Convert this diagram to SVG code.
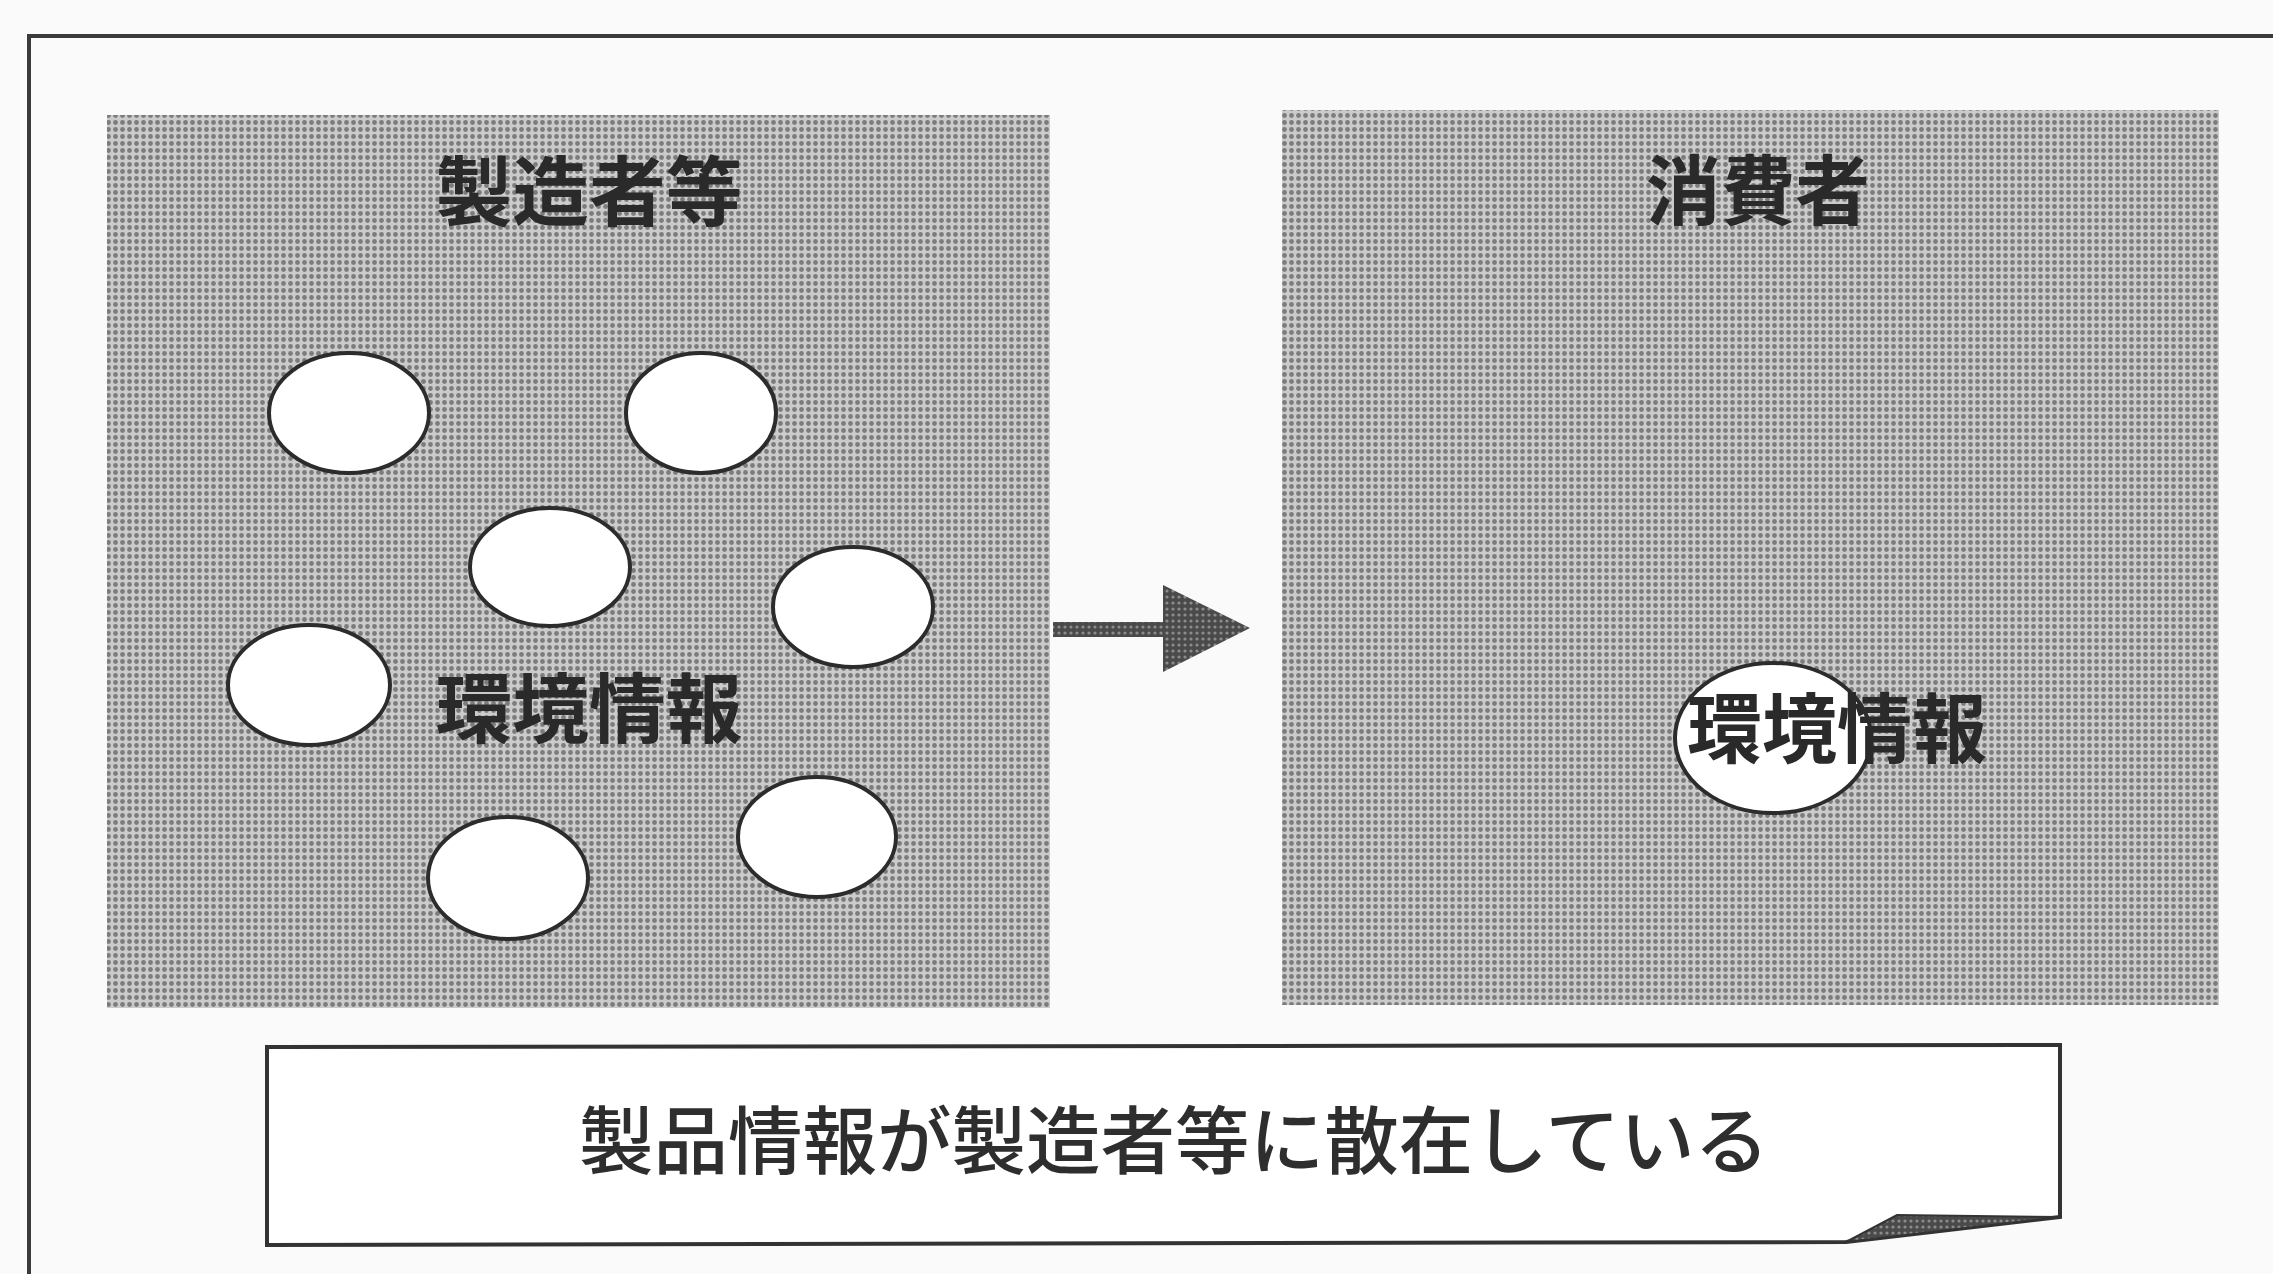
<svg xmlns="http://www.w3.org/2000/svg" width="2273" height="1274" viewBox="0 0 2273 1274">
  <defs>
    <pattern id="ht" width="7" height="7" patternUnits="userSpaceOnUse">
      <rect width="7" height="7" fill="#cbcbcb"/>
      <circle cx="3.5" cy="3.5" r="2.4" fill="#7c7c7c"/>
    </pattern>
    <pattern id="htd" width="6" height="6" patternUnits="userSpaceOnUse">
      <rect width="6" height="6" fill="#4a4a4a"/>
      <circle cx="3" cy="3" r="1.6" fill="#8c8c8c"/>
    </pattern>
    <style>
      .panel { fill: url(#ht); }
      .bubble { fill: #ffffff; stroke: #2c2c2c; stroke-width: 4; }
      .label { font-family: "Noto Sans CJK JP", "Noto Sans CJK SC", sans-serif; font-weight: bold; font-size: 76px; fill: #2a2a2a; }
      .caption { font-family: "Noto Sans CJK JP", "Noto Sans CJK SC", sans-serif; font-weight: 500; font-size: 74px; fill: #2e2e2e; }
      .frame { fill: none; stroke: #3a3a3a; stroke-width: 4; }
      .note { fill: #ffffff; stroke: #333333; stroke-width: 4; stroke-linejoin: miter; }
      .arrow { fill: url(#htd); }
    </style>
  </defs>

  <rect width="2273" height="1274" fill="#fafafa"/>
  <rect class="frame" x="29" y="36" width="2300" height="1300"/>

  <g id="producers">
    <rect class="panel" x="107" y="115" width="943" height="893"/>
    <text class="label" x="589" y="220" text-anchor="middle" textLength="307" lengthAdjust="spacingAndGlyphs">製造者等</text>
    <ellipse class="bubble" cx="349" cy="413" rx="80" ry="60"/>
    <ellipse class="bubble" cx="701" cy="413" rx="75" ry="60"/>
    <ellipse class="bubble" cx="550" cy="567" rx="80" ry="59"/>
    <ellipse class="bubble" cx="853" cy="607" rx="80" ry="60"/>
    <ellipse class="bubble" cx="309" cy="685" rx="81" ry="60"/>
    <ellipse class="bubble" cx="508" cy="878" rx="80" ry="61"/>
    <ellipse class="bubble" cx="817" cy="837" rx="79" ry="60"/>
    <text class="label" x="589" y="737" text-anchor="middle" textLength="307" lengthAdjust="spacingAndGlyphs">環境情報</text>
  </g>

  <g id="consumers">
    <rect class="panel" x="1282" y="110" width="937" height="895"/>
    <text class="label" x="1758" y="219" text-anchor="middle" textLength="224" lengthAdjust="spacingAndGlyphs">消費者</text>
    <ellipse class="bubble" cx="1773" cy="738" rx="98" ry="75"/>
    <text class="label" x="1837" y="757" text-anchor="middle" textLength="300" lengthAdjust="spacingAndGlyphs">環境情報</text>
  </g>

  <g id="connectors">
    <path class="arrow" d="M1053,622 L1163,622 L1163,585 L1250,628 L1163,672 L1163,637 L1053,637 Z"/>
  </g>

  <g id="summary">
    <path class="note" d="M267,1047 L2060,1045 L2060,1217 L1846,1242 L267,1245 Z"/>
    <path d="M1846,1242 L1897,1215 L2060,1217 Z" fill="url(#htd)" stroke="#333333" stroke-width="2"/>
    <text class="caption" x="1174" y="1168" text-anchor="middle" textLength="1190" lengthAdjust="spacingAndGlyphs">製品情報が製造者等に散在している</text>
  </g>
</svg>
